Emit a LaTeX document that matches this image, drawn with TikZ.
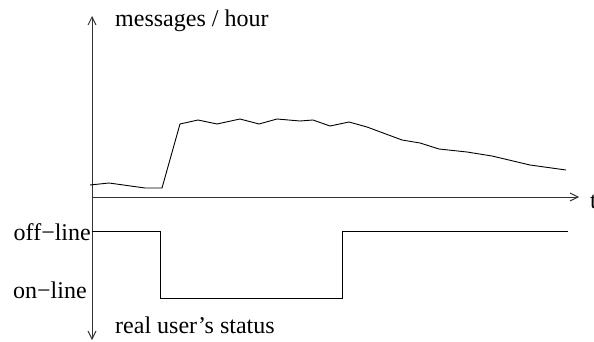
\documentclass[tikz,border=0pt]{standalone}
\usepackage{fontspec}
\setmainfont{Liberation Serif}
\usetikzlibrary{arrows.meta}
\begin{document}
\begin{tikzpicture}[x=1pt,y=-1pt,
  lbl/.style={anchor=base west,inner sep=0pt,font=\fontsize{24}{28}\selectfont},
  axisline/.style={line width=0.9pt,draw=black!80},
  curve/.style={line width=0.9pt,line join=round},
  tip/.style={{Straight Barb[length=8pt,width=8pt]}}]
\useasboundingbox (0,0) rectangle (594,342);
% axes
\coordinate (ytop) at (92,16);
\coordinate (ybot) at (92,340);
\coordinate (x0) at (92,197);
\coordinate (xend) at (579,197);
\draw[axisline,{Straight Barb[length=8pt,width=8pt]}-{Straight Barb[length=8pt,width=8pt]}] (ytop) -- (ybot);
\draw[axisline,-{Straight Barb[length=8pt,width=8pt]}] (x0) -- (xend);
% labels
\node[lbl] (msg) at (115,27) {messages / hour};
\node[lbl] (t) at (590,208) {t};
\node[lbl,anchor=base east] (off) at (91,240) {off−line};
\node[lbl] (on) at (13,298) {on−line};
\node[lbl] (status) at (115,333) {real user’s status};
% message rate curve
\draw[curve] (90,185) -- (109,183) -- (145,188) -- (162,188) -- (180,124) -- (198,120)
  -- (217,124) -- (240,119) -- (259,124) -- (277,119) -- (300,121) -- (313,120)
  -- (330,126) -- (349,122) -- (367,127) -- (402,140) -- (420,143) -- (439,149)
  -- (467,152) -- (492,156) -- (530,165) -- (566,170);
% status
\draw[curve,line join=miter] (92,231) -- (160,231) -- (160,298) -- (342,298) -- (342,231) -- (568,231);
\end{tikzpicture}
\end{document}
